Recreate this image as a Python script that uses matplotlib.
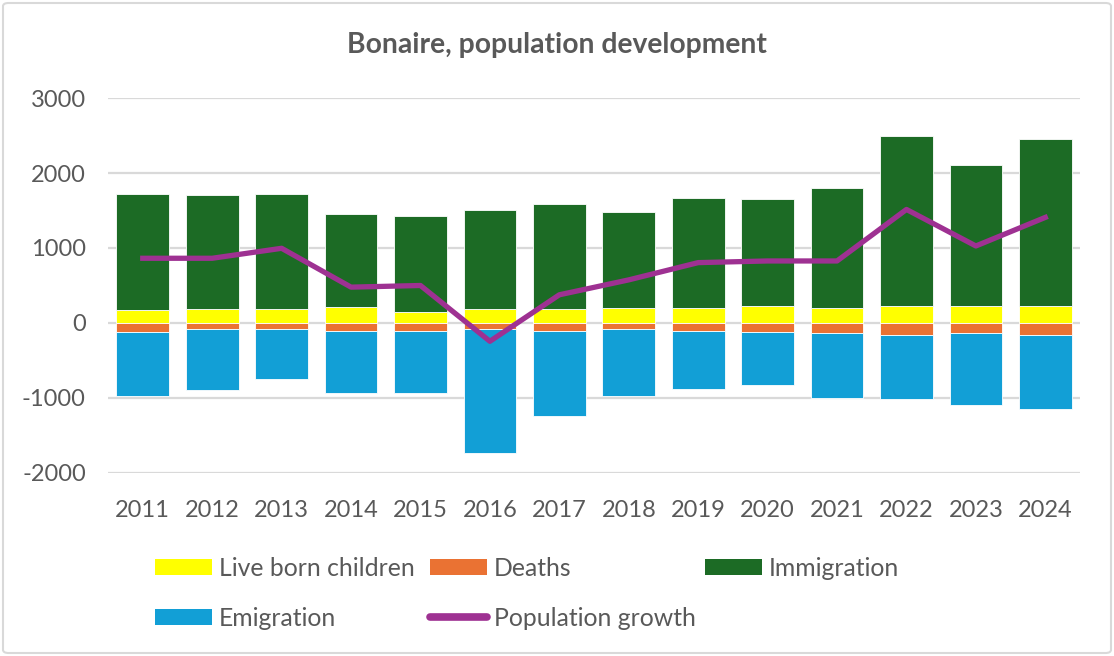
import matplotlib
matplotlib.use("Agg")
import matplotlib.pyplot as plt
from matplotlib.patches import Patch, FancyBboxPatch
from matplotlib.lines import Line2D
import numpy as np

years = ["2011", "2012", "2013", "2014", "2015", "2016", "2017",
         "2018", "2019", "2020", "2021", "2022", "2023", "2024"]
live_born = [168, 186, 186, 207, 146, 186, 186, 203, 203, 226, 203, 226, 226, 226]
immigration = [1558, 1522, 1540, 1240, 1275, 1314, 1394, 1275, 1470, 1425, 1603, 2265, 1885, 2221]
deaths = [-120, -80, -80, -102, -102, -80, -102, -80, -102, -120, -138, -155, -138, -155]
emigration = [-855, -815, -664, -833, -833, -1656, -1138, -895, -775, -704, -858, -855, -951, -987]
pop_growth = [863, 863, 996, 478, 500, -244, 376, 575, 805, 827, 827, 1514, 1027, 1408]

c_yellow = "#FFFF00"
c_orange = "#EA7233"
c_green = "#1C6B25"
c_blue = "#129FD6"
c_purple = "#9E3192"
txt = "#595959"
grid = "#D9D9D9"

plt.rcParams['font.family'] = ['Lato', 'DejaVu Sans']
plt.rcParams['axes.unicode_minus'] = False

fig = plt.figure(figsize=(11.14, 6.56), dpi=100)
ax = fig.add_axes([0.097, 0.279, 0.8725, 0.5716])

x = np.arange(len(years))
w = 0.76
ek = dict(edgecolor="white", linewidth=0.6, zorder=2)
ax.bar(x, live_born, w, color=c_yellow, **ek)
ax.bar(x, immigration, w, bottom=live_born, color=c_green, **ek)
ax.bar(x, deaths, w, color=c_orange, **ek)
ax.bar(x, emigration, w, bottom=deaths, color=c_blue, **ek)
ax.plot(x, pop_growth, color=c_purple, linewidth=3.8, zorder=3, solid_joinstyle="round")

ax.set_xlim(-0.5, len(years) - 0.5)
ax.set_ylim(-2000, 3000)
ax.set_yticks([-2000, -1000, 0, 1000, 2000, 3000])
ax.set_xticks(x)
ax.set_xticklabels(years)
ax.yaxis.grid(True, color=grid, linewidth=1.6)
ax.set_axisbelow(True)
for s in ax.spines.values():
    s.set_visible(False)
ax.tick_params(axis="both", length=0, labelsize=17, labelcolor=txt)
ax.tick_params(axis="x", pad=19.5)
ax.tick_params(axis="y", pad=16)

fig.text(0.5, 1 - 45 / 656, "Bonaire, population development", ha="center", va="center",
         fontsize=20.3, fontweight="bold", color=txt)

# Legend entries placed individually
entries = [
    (Patch(facecolor=c_yellow), "Live born children", 155, 568),
    (Patch(facecolor=c_orange), "Deaths", 430, 568),
    (Patch(facecolor=c_green), "Immigration", 705, 568),
    (Patch(facecolor=c_blue), "Emigration", 155, 618),
    (Line2D([], [], color=c_purple, linewidth=5.5, solid_capstyle="round"), "Population growth", 430, 618),
]
for h, lab, px, py in entries:
    leg = fig.legend(handles=[h], labels=[lab], loc="center left",
                     bbox_to_anchor=(px / 1114, 1 - py / 656), frameon=False,
                     fontsize=17.8, handlelength=2.3, handleheight=0.61,
                     handletextpad=0.28, borderpad=0, borderaxespad=0)
    for t in leg.get_texts():
        t.set_color(txt)

border = FancyBboxPatch((3 / 1114, 3 / 656), 1 - 6 / 1114, 1 - 6 / 656,
                        boxstyle="round,pad=0,rounding_size=0.005",
                        transform=fig.transFigure, facecolor="none",
                        edgecolor="#D9D9D9", linewidth=1.5)
fig.add_artist(border)

fig.savefig("out.png", dpi=100)
